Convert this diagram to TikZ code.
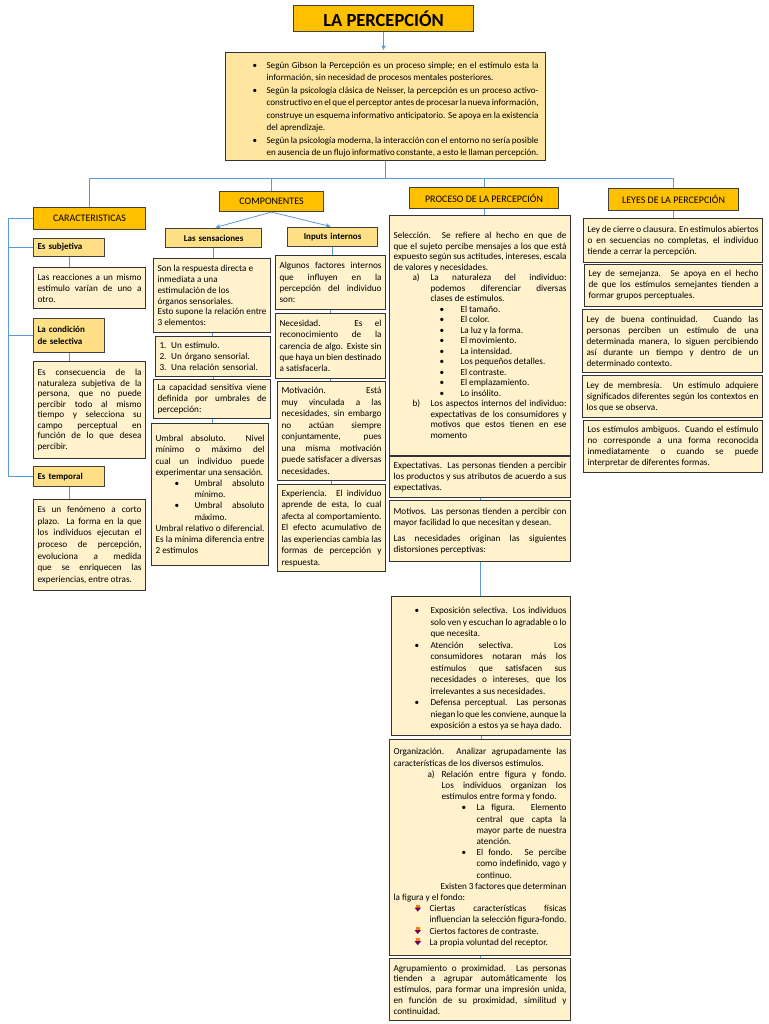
\documentclass[tikz,border=0pt]{standalone}
\usepackage{fontspec}
\setmainfont{Carlito}
\usetikzlibrary{arrows.meta}

\definecolor{headorange}{RGB}{255,192,0}
\definecolor{labfill}{RGB}{255,224,135}
\definecolor{topfill}{RGB}{255,230,160}
\definecolor{boxfill}{RGB}{255,242,204}
\definecolor{linkblue}{RGB}{91,155,213}

\hyphenpenalty=10000
\newcommand{\lpar}[4]{\par{\leftskip=#1pt\noindent\llap{\makebox[#2pt][l]{#3}}#4\par}}
\newcommand{\figbullet}{\tikz[x=1pt,y=1pt,baseline=0pt]{\fill[orange] (1.5,7) rectangle (5,4);
  \fill[violet!80!black] (0,4) -- (6.5,4) -- (3.2,0) -- cycle;}}

\begin{document}
\begin{tikzpicture}[x=1pt, y=-1pt,
                    head/.style={draw=black!75, fill=headorange, line width=1.1pt, anchor=north west, inner sep=0pt, font=\fontsize{10}{12}\selectfont},
                    lab/.style={draw=black!75, fill=labfill, line width=1.1pt, anchor=north west, inner xsep=4pt, inner ysep=2pt, align=left, font=\fontsize{9}{12}\selectfont\bfseries},
                    txt/.style={draw=black!80, fill=boxfill, line width=1.1pt, anchor=north west, inner xsep=4pt, inner ysep=2pt, align=justify, font=\fontsize{9.2}{11}\selectfont},
                    link/.style={draw=linkblue, line width=0.8pt},
                    arrowlink/.style={-{Stealth[length=5pt, width=4.5pt]}, shorten >=2pt}
                ]

                \fill[white] (0,0) rectangle (768,1024);
                \useasboundingbox (0,0) rectangle (768,1024);

                % Titulo e introduccion
                \node[head, minimum width=180pt, minimum height=26pt, font=\fontsize{18.5}{21}\selectfont\bfseries] (title) at (293,5) {LA PERCEPCIÓN};
                \node[txt, fill=topfill, text width=306pt, inner xsep=7pt, inner ysep=3pt, minimum height=100pt, font=\fontsize{9.1}{12.5}\selectfont] (intro) at (225,52) {%
                    \lpar{34}{14}{\textbullet}{Según Gibson la Percepción es un proceso simple; en el estímulo esta la información, sin necesidad de procesos mentales posteriores.}%
                    \lpar{34}{14}{\textbullet}{Según la psicología clásica de Neisser, la percepción es un proceso activo-constructivo en el que el perceptor antes de procesar la nueva información, construye un esquema informativo anticipatorio. Se apoya en la existencia del aprendizaje.}%
                    \lpar{34}{14}{\textbullet}{Según la psicología moderna, la interacción con el entorno no sería posible en ausencia de un flujo informativo constante, a esto le llaman percepción.}};

                % Ramas principales
                \node[head, minimum width=112pt, minimum height=22pt] (carac) at (33,207) {CARACTERISTICAS};
                \node[head, minimum width=104pt, minimum height=20pt] (comp) at (219,191) {COMPONENTES};
                \node[head, minimum width=149pt, minimum height=21pt] (proc) at (409,187) {PROCESO DE LA PERCEPCIÓN};
                \node[head, minimum width=130pt, minimum height=22pt] (leyes) at (608,188) {LEYES DE LA PERCEPCIÓN};

                % Caracteristicas
                \node[lab, text width=63pt, minimum height=18pt] (subj) at (33,238) {Es subjetiva};
                \node[txt, text width=104pt, minimum height=41pt] (subjtxt) at (33,267) {Las reacciones a un mismo estímulo varían de uno a otro.};
                \node[lab, text width=63pt, minimum height=34pt] (sel) at (33,318) {La condición\\de selectiva};
                \node[txt, text width=104pt, minimum height=97pt, font=\fontsize{9.2}{10.5}\selectfont] (seltxt) at (33,361) {Es consecuencia de la naturaleza subjetiva de la persona, que no puede percibir todo al mismo tiempo y selecciona su campo perceptual en función de lo que desea percibir.};
                \node[lab, text width=63pt, minimum height=20pt] (temp) at (33,466) {Es temporal};
                \node[txt, text width=104pt, minimum height=91pt, font=\fontsize{9.2}{11.6}\selectfont] (temptxt) at (33,499) {Es un fenómeno a corto plazo. La forma en la que los individuos ejecutan el proceso de percepción, evoluciona a medida que se enriquecen las experiencias, entre otras.};

                % Componentes: sensaciones
                \node[lab, align=center, text width=88pt, minimum height=19pt] (sens) at (165,228) {Las sensaciones};
                \node[txt, text width=109pt, minimum height=74pt, font=\fontsize{9.2}{10.8}\selectfont] (sens1) at (153,258) {Son la respuesta directa e\\inmediata a una\\estimulación de los\\órganos sensoriales.\\Esto supone la relación entre 3 elementos:};
                \node[txt, text width=107pt, minimum height=40pt, align=left] (sens2) at (155,336) {1. Un estímulo.\\2. Un órgano sensorial.\\3. Una relación sensorial.};
                \node[txt, text width=109pt, minimum height=39pt] (sens3) at (153,379) {La capacidad sensitiva viene definida por umbrales de percepción:};
                \node[txt, text width=109pt, minimum height=142pt, font=\fontsize{9.2}{11.2}\selectfont] (sens4) at (151,423) {Umbral absoluto. Nivel mínimo o máximo del cual un individuo puede experimentar una sensación.%
                    \lpar{39}{20}{\textbullet}{Umbral absoluto mínimo.}%
                    \lpar{39}{20}{\textbullet}{Umbral absoluto máximo.}%
                    Umbral relativo o diferencial. Es la mínima diferencia entre 2 estímulos};

                % Componentes: inputs internos
                \node[lab, align=center, text width=82pt, minimum height=19pt] (inp) at (287,227) {Inputs internos};
                \node[txt, text width=102pt, minimum height=54pt, font=\fontsize{9.2}{11.3}\selectfont] (inp1) at (275,255) {Algunos factores internos que influyen en la percepción del individuo son:};
                \node[txt, text width=102pt, minimum height=65pt, font=\fontsize{9.2}{11.3}\selectfont] (inp2) at (275,313) {Necesidad. Es el reconocimiento de la carencia de algo. Existe sin que haya un bien destinado a satisfacerla.};
                \node[txt, text width=100pt, minimum height=99pt, font=\fontsize{9.2}{11.5}\selectfont] (inp3) at (277,381) {Motivación. Está muy vinculada a las necesidades, sin embargo no actúan siempre conjuntamente, pues una misma motivación puede satisfacer a diversas necesidades.};
                \node[txt, text width=100pt, minimum height=87pt, font=\fontsize{9.2}{11.5}\selectfont] (inp4) at (277,484) {Experiencia. El individuo aprende de esta, lo cual afecta al comportamiento. El efecto acumulativo de las experiencias cambia las formas de percepción y respuesta.};

                % Proceso de la percepcion
                \node[txt, text width=173pt, minimum height=240pt, font=\fontsize{9.2}{10.5}\selectfont] (selec) at (389,215) {Selección. Se refiere al hecho en que de que el sujeto percibe mensajes a los que está expuesto según sus actitudes, intereses, escala de valores y necesidades.%
                    \lpar{37}{18}{a)}{La naturaleza del individuo: podemos diferenciar diversas clases de estímulos.}%
                    \lpar{67}{21}{\textbullet}{El tamaño.}%
                    \lpar{67}{21}{\textbullet}{El color.}%
                    \lpar{67}{21}{\textbullet}{La luz y la forma.}%
                    \lpar{67}{21}{\textbullet}{El movimiento.}%
                    \lpar{67}{21}{\textbullet}{La intensidad.}%
                    \lpar{67}{21}{\textbullet}{Los pequeños detalles.}%
                    \lpar{67}{21}{\textbullet}{El contraste.}%
                    \lpar{67}{21}{\textbullet}{El emplazamiento.}%
                    \lpar{67}{21}{\textbullet}{Lo insólito.}%
                    \lpar{37}{18}{b)}{Los aspectos internos del individuo: expectativas de los consumidores y motivos que estos tienen en ese momento}};
                \node[txt, text width=173pt, minimum height=41pt] (expec) at (389,456) {Expectativas. Las personas tienden a percibir los productos y sus atributos de acuerdo a sus expectativas.};
                \node[txt, text width=173pt, minimum height=61pt] (motiv) at (389,500) {Motivos. Las personas tienden a percibir con mayor facilidad lo que necesitan y desean.\par\vspace{5pt}Las necesidades originan las siguientes distorsiones perceptivas:};
                \node[txt, text width=171pt, minimum height=139pt, font=\fontsize{9.2}{11.5}\selectfont] (distor) at (391,596) {%
                    \lpar{35}{16}{\textbullet}{Exposición selectiva. Los individuos solo ven y escuchan lo agradable o lo que necesita.}%
                    \lpar{35}{16}{\textbullet}{Atención selectiva. Los consumidores notaran más los estímulos que satisfacen sus necesidades o intereses, que los irrelevantes a sus necesidades.}%
                    \lpar{35}{16}{\textbullet}{Defensa perceptual. Las personas niegan lo que les conviene, aunque la exposición a estos ya se haya dado.}};
                \node[txt, text width=173pt, minimum height=216pt, font=\fontsize{9.2}{11.2}\selectfont] (organ) at (389,739) {Organización. Analizar agrupadamente las características de los diversos estímulos.%
                    \lpar{48}{14}{a)}{Relación entre figura y fondo. Los individuos organizan los estímulos entre forma y fondo.}%
                    \lpar{83}{15}{\textbullet}{La figura. Elemento central que capta la mayor parte de nuestra atención.}%
                    \lpar{83}{15}{\textbullet}{El fondo. Se percibe como indefinido, vago y continuo.}%
                    \hspace*{47pt}Existen 3 factores que determinan la figura y el fondo:%
                    \lpar{36}{15}{\figbullet}{Ciertas características físicas influencian la selección figura-fondo.}%
                    \lpar{36}{15}{\figbullet}{Ciertos factores de contraste.}%
                    \lpar{36}{15}{\figbullet}{La propia voluntad del receptor.}};
                \node[txt, text width=173pt, minimum height=62pt, font=\fontsize{9.2}{10.8}\selectfont] (agrup) at (389,958) {Agrupamiento o proximidad. Las personas tienden a agrupar automáticamente los estímulos, para formar una impresión unida, en función de su proximidad, similitud y continuidad.};

                % Leyes de la percepcion
                \node[txt, text width=171pt, minimum height=44pt] (cierre) at (583,218) {Ley de cierre o clausura. En estímulos abiertos o en secuencias no completas, el individuo tiende a cerrar la percepción.};
                \node[txt, text width=170pt, minimum height=42pt] (semej) at (584,264) {Ley de semejanza. Se apoya en el hecho de que los estímulos semejantes tienden a formar grupos perceptuales.};
                \node[txt, text width=172pt, minimum height=63pt] (contin) at (582,309) {Ley de buena continuidad. Cuando las personas perciben un estímulo de una determinada manera, lo siguen percibiendo así durante un tiempo y dentro de un determinado contexto.};
                \node[txt, text width=172pt, minimum height=42pt] (membr) at (582,375) {Ley de membresía. Un estímulo adquiere significados diferentes según los contextos en los que se observa.};
                \node[txt, text width=171pt, minimum height=52pt] (ambig) at (583,420) {Los estímulos ambiguos. Cuando el estímulo no corresponde a una forma reconocida inmediatamente o cuando se puede interpretar de diferentes formas.};

                % Conectores
                \draw[link, arrowlink] (title.south) -- (title.south |- intro.north);
                \draw[link] (intro.south) -- ++(0,18) -| (carac.north);
                \draw[link] (intro.south) -- ++(0,18) -| (comp.north);
                \draw[link] (intro.south) -- ++(0,18) -| (proc.north);
                \draw[link] (intro.south) -- ++(0,18) -| (leyes.north);

                \draw[link] (carac.west) -- ++(-25,0) |- (subj.west);
                \draw[link] (carac.west) -- ++(-25,0) |- (sel.west);
                \draw[link] (carac.west) -- ++(-25,0) |- (temp.west);
                \draw[link] (subj.south) -- (subj.south |- subjtxt.north);
                \draw[link] (sel.south) -- (sel.south |- seltxt.north);
                \draw[link] (temp.south) -- (temp.south |- temptxt.north);

                \draw[link, arrowlink] (comp.south) -- (sens.north);
                \draw[link, arrowlink] (comp.south) -- (inp.north);
                \draw[link] (sens.south) -- (sens.south |- sens1.north);
                \draw[link] (sens1.south) -- (sens1.south |- sens2.north);
                \draw[link] (sens2.south) -- (sens2.south |- sens3.north);
                \draw[link] (sens3.south) -- (sens3.south |- sens4.north);
                \draw[link] (inp.south) -- (inp.south |- inp1.north);
                \draw[link] (inp1.south) -- (inp1.south |- inp2.north);
                \draw[link] (inp2.south) -- (inp2.south |- inp3.north);
                \draw[link] (inp3.south) -- (inp3.south |- inp4.north);

                \draw[link] (proc.south) -- (proc.south |- selec.north);
                \draw[link] (expec.south) -- (expec.south |- motiv.north);
                \draw[link] (motiv.south) -- (motiv.south |- distor.north);
                \draw[link] (distor.south) -- (distor.south |- organ.north);
                \draw[link] (organ.south) -- (organ.south |- agrup.north);

                \draw[link] (leyes.south) -- (leyes.south |- cierre.north);

                \end{tikzpicture}
\end{document}
